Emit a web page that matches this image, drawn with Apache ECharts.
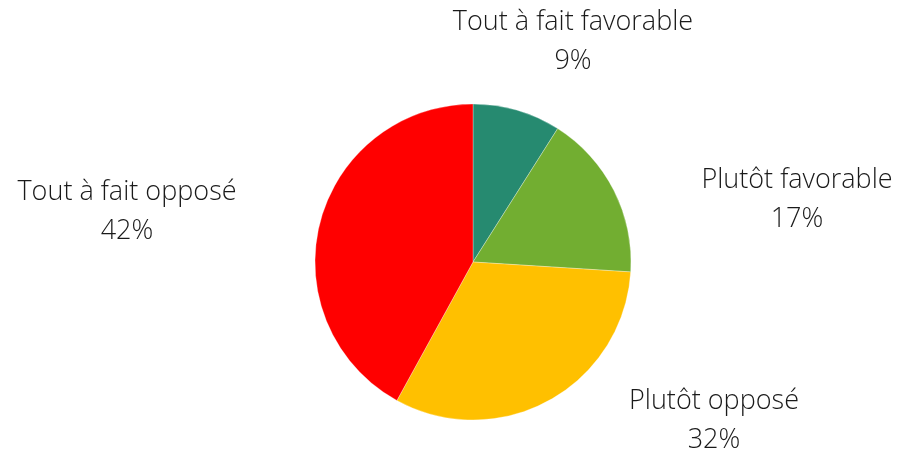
<!DOCTYPE html>
<html>
<head>
<meta charset="utf-8">
<script src="https://cdn.jsdelivr.net/npm/echarts@6/dist/echarts.min.js"></script>
<style>
  html, body { margin: 0; padding: 0; background: #fff; }
  #main { width: 901px; height: 454px; }
</style>
</head>
<body>
<div id="main"></div>
<script>
// categories and shares (%)
var categories = ["Tout à fait favorable", "Plutôt favorable", "Plutôt opposé", "Tout à fait opposé"]
var values = [9, 17, 32, 42]
var colors = ["#268A70", "#72AE31", "#FFC000", "#FF0000"]
// label centres, as placed in the original
var labelPos = [[573, 42], [797, 200], [714, 421], [127, 212]]

var chart = echarts.init(document.getElementById("main"))
var data = []
for (var i = 0; i < categories.length; i++) {
  data.push({ name: categories[i], value: values[i], itemStyle: { color: colors[i] } })
}
var option = {
  animation: false,
  series: [
    {
      type: "pie",
      center: [473, 262],
      radius: 158,
      startAngle: 90,
      clockwise: true,
      itemStyle: { borderColor: "rgba(255,255,255,0.6)", borderWidth: 0.5 },
      label: {
        show: true,
        position: "outside",
        formatter: "{b}\n{d}%",
        color: "#1a1a1a",
        fontFamily: "Open Sans",
        fontWeight: 300,
        fontSize: 27,
        lineHeight: 39,
        align: "center"
      },
      labelLine: { show: false },
      labelLayout: function (params) {
        var p = labelPos[params.dataIndex]
        return { x: p[0], y: p[1], align: "center", verticalAlign: "middle" }
      },
      emphasis: { disabled: true },
      data: data
    }
  ]
}
chart.setOption(option)
</script>
</body>
</html>
